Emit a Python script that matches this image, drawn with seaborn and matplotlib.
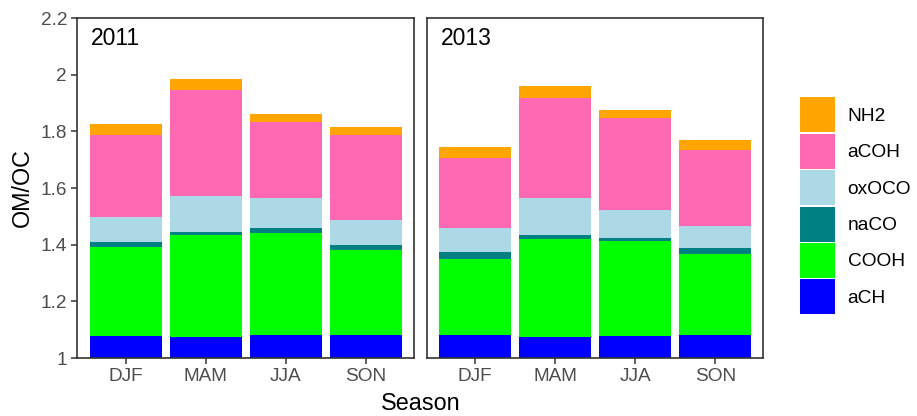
import numpy as np
import pandas as pd
import seaborn as sns
import matplotlib.pyplot as plt
from matplotlib.patches import Patch

seasons = ["DJF", "MAM", "JJA", "SON"]
years = ["2011", "2013"]

# stacked contributions above 1, bottom to top; each row is one year
aCH = [[0.076, 0.073, 0.080, 0.080], [0.080, 0.073, 0.076, 0.080]]
COOH = [[0.317, 0.362, 0.362, 0.302], [0.271, 0.348, 0.338, 0.288]]
naCO = [[0.018, 0.011, 0.018, 0.018], [0.024, 0.014, 0.011, 0.021]]
oxOCO = [[0.088, 0.126, 0.105, 0.088], [0.085, 0.130, 0.098, 0.078]]
aCOH = [[0.289, 0.375, 0.268, 0.299], [0.247, 0.352, 0.324, 0.267]]
NH2 = [[0.039, 0.037, 0.028, 0.028], [0.038, 0.042, 0.028, 0.035]]

groups = ["aCH", "COOH", "naCO", "oxOCO", "aCOH", "NH2"]
colors = ["#0000FF", "#00FF00", "#008080", "#ADD8E6", "#FF69B4", "#FFA500"]

rows = []
for yi, yr in enumerate(years):
    for si, s in enumerate(seasons):
        for g, vals in zip(groups, [aCH, COOH, naCO, oxOCO, aCOH, NH2]):
            rows.append({"Year": yr, "Season": s, "Group": g, "value": vals[yi][si]})
df = pd.DataFrame(rows)
df["Group"] = pd.Categorical(df["Group"], groups, ordered=True)
df = df.sort_values(["Year", "Season", "Group"])
df["top"] = 1 + df.groupby(["Year", "Season"])["value"].cumsum()

sns.set_theme(style="ticks")
plt.rcParams['font.family'] = ['Liberation Sans', 'DejaVu Sans']

fig = plt.figure(figsize=(9.17, 4.16), dpi=100)
axes = [fig.add_axes([0.0845, 0.1394, 0.367, 0.8173]),
        fig.add_axes([0.4656, 0.1394, 0.367, 0.8173])]

for ax, yr in zip(axes, years):
    d = df[df["Year"] == yr]
    # draw cumulative tops from the highest down so each layer shows its slice
    for g, c in reversed(list(zip(groups, colors))):
        dg = d[d["Group"] == g]
        sns.barplot(data=dg, x="Season", y="top", order=seasons, color=c,
                    saturation=1, width=0.9, linewidth=0, ax=ax)
    ax.set_ylim(1, 2.2)
    ax.set_xlim(-0.6, 3.6)
    ax.set_xlabel("")
    ax.set_ylabel("")
    for sp in ax.spines.values():
        sp.set_visible(True)
        sp.set_color("#333333")
        sp.set_linewidth(1.2)
    ax.tick_params(axis="both", length=4, width=1.1, color="#333333",
                   labelcolor="#4D4D4D", labelsize=13.7, pad=3.5)
    ax.text(0.04, 0.975, yr, transform=ax.transAxes, ha="left", va="top",
            fontsize=16.5, color="black")

yticks = [1, 1.2, 1.4, 1.6, 1.8, 2, 2.2]
axes[0].set_yticks(yticks)
axes[0].set_yticklabels([f"{t:g}" for t in yticks])
axes[1].set_yticks([])
axes[0].set_ylabel("OM/OC", fontsize=16.8, color="black", labelpad=5)
fig.text(0.459, 0.003, "Season", ha="center", va="bottom", fontsize=16.8,
         color="black")

handles = [Patch(facecolor=c, edgecolor="none") for c in reversed(colors)]
leg = fig.legend(handles, list(reversed(groups)), loc="center left",
                 bbox_to_anchor=(800 / 917, 0.505), frameon=False, fontsize=13.8,
                 handlelength=1.83, handleheight=2.43, labelspacing=0.075,
                 handletextpad=0.65, borderpad=0, borderaxespad=0)
for t in leg.get_texts():
    t.set_color("black")

fig.savefig("out.png", dpi=100)
